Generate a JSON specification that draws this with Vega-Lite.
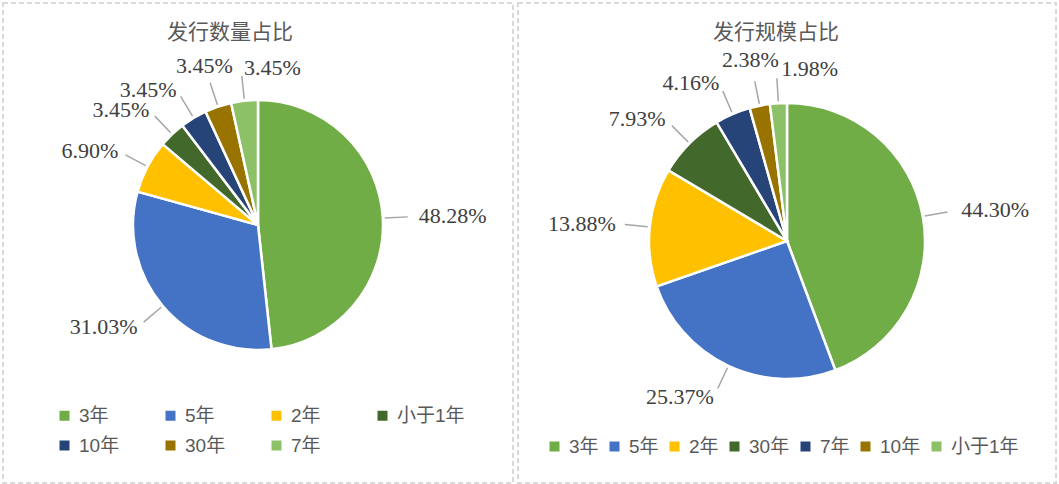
{
  "$schema": "https://vega.github.io/schema/vega-lite/v6.json",
  "padding": {"left": 2, "top": 2, "right": 0, "bottom": 0},
  "background": "white",
  "spacing": 3,
  "config": {
    "view": {"stroke": "#d9d9d9", "strokeDash": [5, 3], "strokeWidth": 2},
    "title": {"font": "Noto Sans CJK SC", "fontSize": 21, "fontWeight": "normal", "color": "#595959", "anchor": "middle", "baseline": "bottom", "offset": -40},
    "text": {"font": "Liberation Serif", "fontSize": 22, "color": "#404040", "baseline": "middle"},
    "legend": {"symbolType": "square", "symbolSize": 100, "symbolStrokeWidth": 0, "labelFont": "Liberation Sans, Noto Sans CJK SC", "labelFontSize": 19, "labelColor": "#595959", "labelOffset": 5, "padding": 0, "title": null}
  },
  "resolve": {"scale": {"color": "independent"}, "legend": {"color": "independent"}},
  "hconcat": [
    {
      "width": 510,
      "height": 480,
      "view": {"stroke": "#d9d9d9", "strokeDash": [5, 3], "strokeWidth": 2},
      "title": {"text": "发行数量占比", "dx": -28},
      "data": {"values": [
        {"cat": "3年", "pct": 0.4828, "order": 1},
        {"cat": "5年", "pct": 0.3103, "order": 2},
        {"cat": "2年", "pct": 0.0690, "order": 3},
        {"cat": "小于1年", "pct": 0.0345, "order": 4},
        {"cat": "10年", "pct": 0.0345, "order": 5},
        {"cat": "30年", "pct": 0.0345, "order": 6},
        {"cat": "7年", "pct": 0.0345, "order": 7}
      ]},
      "encoding": {
        "theta": {"field": "pct", "type": "quantitative", "stack": true},
        "order": {"field": "order", "type": "quantitative"}
      },
      "layer": [
        {
          "mark": {"type": "arc", "outerRadius": 125, "stroke": "white", "strokeWidth": 2.5, "yOffset": -18},
          "encoding": {
            "color": {
              "field": "cat", "type": "nominal",
              "scale": {"domain": ["3年", "5年", "2年", "小于1年", "10年", "30年", "7年"], "range": ["#70ad47", "#4472c4", "#ffc000", "#43682b", "#264478", "#997300", "#8cc168"]},
              "legend": {"orient": "none", "legendX": 52, "legendY": 403, "direction": "horizontal", "columns": 4, "gridAlign": "all", "columnPadding": 14, "rowPadding": 10}
            }
          }
        },
        {
          "mark": {"type": "arc", "innerRadius": 127, "outerRadius": 150, "padAngle": 3.1416, "stroke": "#a6a6a6", "strokeWidth": 1.5, "fillOpacity": 0, "yOffset": -18},
          "encoding": {}
        },
        {
          "mark": {"type": "text", "radius": 158, "align": "left", "dx": 3, "yOffset": -18},
          "encoding": {"text": {"condition": {"test": "indexof(['3年','7年'], datum.cat) >= 0", "field": "pct", "type": "quantitative", "format": ".2%"}, "value": ""}}
        },
        {
          "mark": {"type": "text", "radius": 158, "align": "right", "yOffset": -18},
          "encoding": {"text": {"condition": {"test": "indexof(['5年','2年','小于1年','10年'], datum.cat) >= 0", "field": "pct", "type": "quantitative", "format": ".2%"}, "value": ""}}
        },
        {
          "mark": {"type": "text", "radius": 168, "align": "center", "yOffset": -18},
          "encoding": {"text": {"condition": {"test": "datum.cat === '30年'", "field": "pct", "type": "quantitative", "format": ".2%"}, "value": ""}}
        }
      ]
    },
    {
      "width": 538,
      "height": 480,
      "view": {"stroke": "#d9d9d9", "strokeDash": [5, 3], "strokeWidth": 2},
      "title": {"text": "发行规模占比", "dx": -11},
      "data": {"values": [
        {"cat": "3年", "pct": 0.4430, "order": 1},
        {"cat": "5年", "pct": 0.2537, "order": 2},
        {"cat": "2年", "pct": 0.1388, "order": 3},
        {"cat": "30年", "pct": 0.0793, "order": 4},
        {"cat": "7年", "pct": 0.0416, "order": 5},
        {"cat": "10年", "pct": 0.0238, "order": 6},
        {"cat": "小于1年", "pct": 0.0198, "order": 7}
      ]},
      "encoding": {
        "theta": {"field": "pct", "type": "quantitative", "stack": true},
        "order": {"field": "order", "type": "quantitative"}
      },
      "layer": [
        {
          "mark": {"type": "arc", "outerRadius": 138, "stroke": "white", "strokeWidth": 2.5, "yOffset": -2},
          "encoding": {
            "color": {
              "field": "cat", "type": "nominal",
              "scale": {"domain": ["3年", "5年", "2年", "30年", "7年", "10年", "小于1年"], "range": ["#70ad47", "#4472c4", "#ffc000", "#43682b", "#264478", "#997300", "#8cc168"]},
              "legend": {"orient": "none", "legendX": 27, "legendY": 434, "direction": "horizontal", "columns": 7, "gridAlign": "none", "columnPadding": 6}
            }
          }
        },
        {
          "mark": {"type": "arc", "innerRadius": 140, "outerRadius": 163, "padAngle": 3.1416, "stroke": "#a6a6a6", "strokeWidth": 1.5, "fillOpacity": 0, "yOffset": -2},
          "encoding": {}
        },
        {
          "mark": {"type": "text", "radius": 172, "align": "left", "dx": 5, "yOffset": -2},
          "encoding": {"text": {"condition": {"test": "indexof(['3年','小于1年'], datum.cat) >= 0", "field": "pct", "type": "quantitative", "format": ".2%"}, "value": ""}}
        },
        {
          "mark": {"type": "text", "radius": 172, "align": "right", "yOffset": -2},
          "encoding": {"text": {"condition": {"test": "indexof(['5年','2年','30年','7年'], datum.cat) >= 0", "field": "pct", "type": "quantitative", "format": ".2%"}, "value": ""}}
        },
        {
          "mark": {"type": "text", "radius": 185, "align": "center", "yOffset": -2},
          "encoding": {"text": {"condition": {"test": "datum.cat === '10年'", "field": "pct", "type": "quantitative", "format": ".2%"}, "value": ""}}
        }
      ]
    }
  ]
}
